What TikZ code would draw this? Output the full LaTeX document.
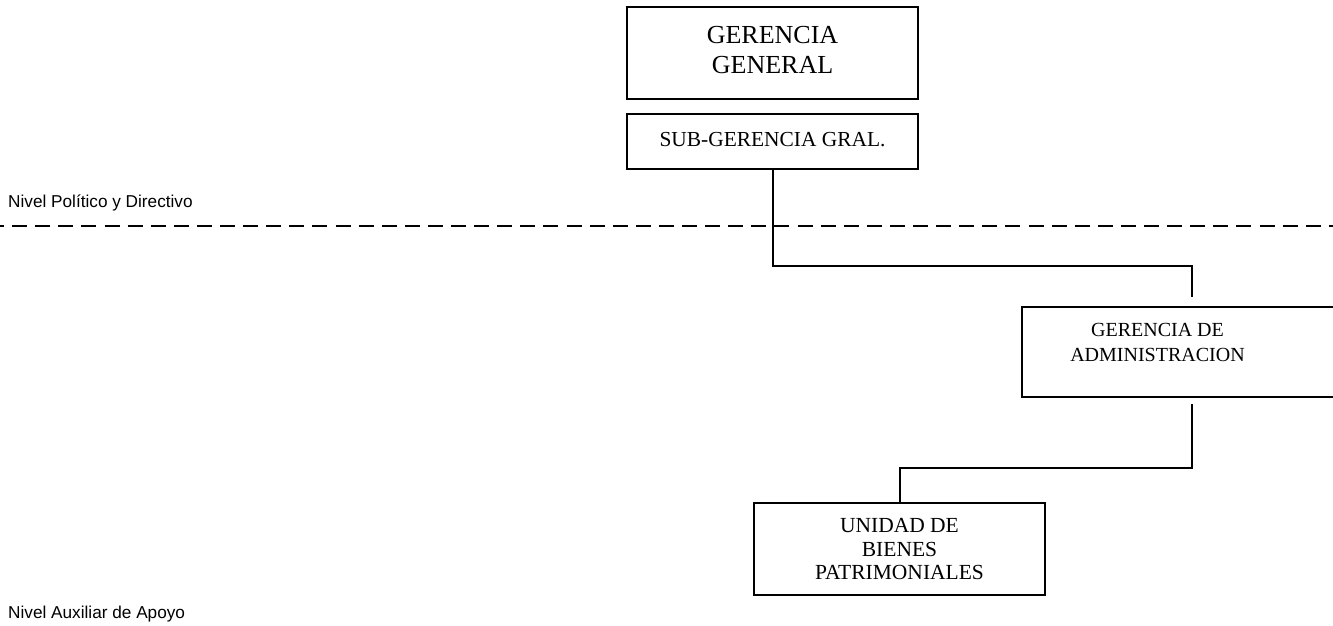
\documentclass[tikz,border=0pt]{standalone}
\usepackage{fontspec}
\setmainfont{Liberation Serif}
\setsansfont{Liberation Sans}
\usetikzlibrary{calc}

\tikzset{
  orgbox/.style={draw=black, line width=2pt, fill=white, inner sep=0pt, align=center},
  conn/.style={draw=black, line width=2pt},
  divider/.style={draw=black, line width=2pt, dash pattern=on 15pt off 8.1pt, dash phase=11pt},
  levellabel/.style={font=\sffamily\fontsize{17.2}{20}\selectfont, anchor=base west, inner sep=0pt},
  boxtext/.style={font=\fontsize{20}{24.5}\selectfont, align=center, inner sep=0pt}
}

\begin{document}
\begin{tikzpicture}[x=1pt, y=-1pt]
  \useasboundingbox (0,0) rectangle (1333,626);

  % Level boundary
  \coordinate (divL) at (0,226);
  \coordinate (divR) at (1333,226);
  \draw[divider] (divL) -- (divR);

  \node[levellabel] (lvltop) at (8,207) {Nivel Político y Directivo};
  \node[levellabel] (lvlbot) at (8,618) {Nivel Auxiliar de Apoyo};

  % Management boxes
  \node[orgbox, minimum width=291pt, minimum height=92pt, text depth=6pt,
        font=\fontsize{26}{30}\selectfont] (gg) at (772.5,53) {GERENCIA\\GENERAL};
  \node[orgbox, minimum width=291pt, minimum height=55pt, text depth=5pt,
        font=\fontsize{21.4}{24}\selectfont] (sub) at (772.5,141.5) {SUB-GERENCIA GRAL.};

  \node[orgbox, minimum width=340pt, minimum height=90pt] (ga) at (1192,352) {};
  \node[boxtext] (gatext) at (1157.5,342.5) {GERENCIA DE\\ADMINISTRACION};

  \node[orgbox, minimum width=291pt, minimum height=92pt, text depth=0pt,
        font=\fontsize{21.5}{23.5}\selectfont] (ubp) at (899.5,549) {UNIDAD DE\\BIENES\\PATRIMONIALES};

  % Reporting lines
  \coordinate (row1) at (0,266);
  \coordinate (row2) at (0,468);
  \draw[conn, shorten >=9pt] (sub.south) |- (row1 -| ga.north) -- (ga.north);
  \draw[conn, shorten <=6pt] (ga.south) |- (row2 -| ubp.north) -- (ubp.north);
\end{tikzpicture}
\end{document}
